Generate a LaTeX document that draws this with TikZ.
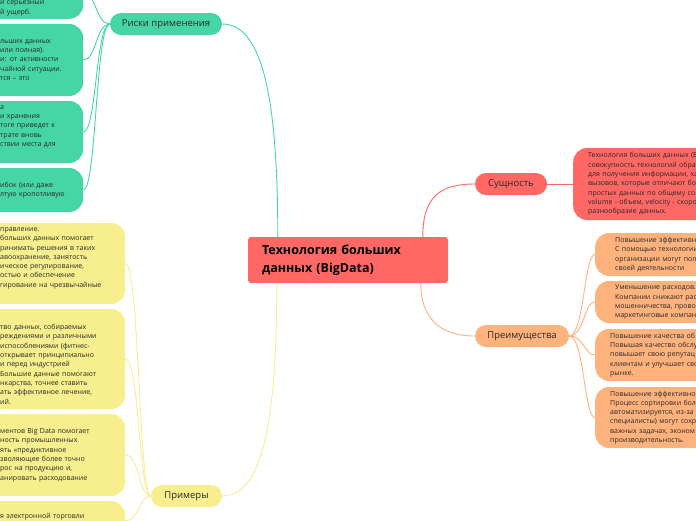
\documentclass[tikz,border=0pt]{standalone}
\usepackage{fontspec}
\setmainfont{Open Sans}

\definecolor{mapteal}{RGB}{70,214,166}
\definecolor{mapyellow}{RGB}{247,239,141}
\definecolor{mapyellowline}{RGB}{246,238,150}
\definecolor{mapred}{RGB}{255,104,100}
\definecolor{maporange}{RGB}{255,178,124}
\definecolor{ink}{RGB}{40,40,40}

\tikzset{
  topic/.style={fill=#1, rounded corners=11pt, minimum height=22pt, inner sep=0pt,
    text=ink, font=\fontsize{9.5}{11}\selectfont},
  note/.style={fill=#1, rounded corners=14pt, align=left, inner ysep=0pt,
    text=ink, font=\fontsize{7}{9.3}\selectfont},
  link/.style={draw=#1, line width=0.9pt},
}

\begin{document}
\begin{tikzpicture}[x=1pt,y=-1pt]
\useasboundingbox (0,0) rectangle (696,520);
\clip (0,0) rectangle (696,520);

% central topic
\node (bigdata) [fill=mapred, rounded corners=3pt, minimum width=200pt, minimum height=46pt,
  text width=172pt, inner xsep=14pt, align=left, text=black,
  font=\bfseries\fontsize{12.5}{17.5}\selectfont] at (348,260) {Технология больших\\данных (BigData)};

% main branches
\node (risks) [topic=mapteal, minimum width=112pt] at (166,24) {Риски применения};
\node (essence) [topic=mapred, minimum width=72pt] at (511,184) {Сущность};
\node (pros) [topic=maporange, minimum width=94pt] at (522,336) {Преимущества};
\node (cases) [topic=mapyellow, minimum width=71pt] at (186.5,496) {Примеры};

% risks (cut at the left edge)
\node (risk1) [note=mapteal, anchor=south west, text width=68pt, inner xsep=15pt, inner ysep=3pt]
  at (-15,19) {\strut\\\strut\\\strut\\и серьезный\\й ущерб.};
\node (risk2) [note=mapteal, anchor=west, text width=68pt, inner xsep=15pt, minimum height=72pt]
  at (-15,60) {\strut\\льших данных\\или полная).\\и: от активности\\чайной ситуации.\\тся – это\\\strut};
\node (risk3) [note=mapteal, anchor=west, text width=68pt, inner xsep=15pt, minimum height=62pt]
  at (-15,132) {а\\и хранения\\тоге приведет к\\трате вновь\\ствии места для\\\strut};
\node (risk4) [note=mapteal, anchor=west, text width=68pt, inner xsep=15pt, minimum height=44pt]
  at (-15,190) {ибок (или даже\\лтую кропотливую};

% examples (cut at the left edge)
\node (ex1) [note=mapyellow, anchor=west, text width=110pt, inner xsep=15pt, minimum height=81pt]
  at (-15,263.5) {правление.\\больших данных помогает\\ринимать решения в таких\\авоохранение, занятость\\ическое регулирование,\\остью и обеспечение\\гирование на чрезвычайные\\\strut};
\node (ex2) [note=mapyellow, anchor=west, text width=110pt, inner xsep=15pt, minimum height=100pt]
  at (-15,359) {\strut\\тво данных, собираемых\\реждениями и различными\\испособлениями (фитнес-\\открывает принципиально\\и перед индустрией\\Большие данные помогают\\нкарства, точнее ставить\\ать эффективное лечение,\\ий.};
\node (ex3) [note=mapyellow, anchor=west, text width=110pt, inner xsep=15pt, minimum height=82pt]
  at (-15,455) {\strut\\ментов Big Data помогает\\ность промышленных\\ять «предиктивное\\зволяющее более точно\\рос на продукцию и,\\анировать расходование\\\strut};
\node (ex4) [note=mapyellow, anchor=north west, text width=110pt, inner xsep=15pt, inner ysep=1pt]
  at (-15,501) {\strut\\я электронной торговли\\\strut\\\strut};

% essence (cut at the right edge)
\node (essbox) [note=mapred, anchor=west, text width=150pt, inner xsep=15pt, minimum height=72pt]
  at (573,184) {Технология больших данных (В\\совокупность технологий обраб\\для получения информации, ха\\вызовов, которые отличают бо\\простых данных по общему со\\volume - объем, velocity - скоро\\разнообразие данных.};

% advantages (cut at the right edge)
\node (adv1) [note=maporange, anchor=west, text width=150pt, inner xsep=20pt, minimum height=43pt]
  at (595,254.5) {Повышение эффективн\\С помощью технологии\\организации могут пол\\своей деятельности};
\node (adv2) [note=maporange, anchor=west, text width=150pt, inner xsep=20pt, minimum height=42pt]
  at (595,302) {Уменьшение расходов.\\Компании снижают рас\\мошенничества, прово\\маркетинговые компан};
\node (adv3) [note=maporange, anchor=west, text width=150pt, inner xsep=15pt, minimum height=52pt]
  at (595,355) {Повышение качества об\\Повышая качество обслу\\повышает свою репутац\\клиентам и улучшает сво\\рынке.};
\node (adv4) [note=maporange, anchor=west, text width=150pt, inner xsep=15pt, minimum height=61pt]
  at (595,417.5) {Повышение эффективно\\Процесс сортировки бол\\автоматизируется, из-за\\специалисты) могут сохр\\важных задачах, эконом\\производительность.};

% links from the centre
\draw[link=mapteal] ([xshift=30pt]bigdata.north west) .. controls +(0,-140) and +(40,0) .. (risks.east);
\draw[link=mapyellowline] ([xshift=29pt]bigdata.south west) .. controls +(0,140) and +(40,0) .. (cases.east);
\draw[link=mapred] ([xshift=175pt]bigdata.north west) .. controls +(0,-40) and +(-35,0) .. (essence.west);
\draw[link=maporange] ([xshift=173pt]bigdata.south west) .. controls +(0,35) and +(-35,0) .. (pros.west);

% links to the notes
\draw[link=mapred] (essence.east) -- (essbox.west);
\foreach \kid in {risk1,risk2,risk3,risk4}
  \draw[link=mapteal] (risks.west) .. controls +(-14,0) and +(13,0) .. (\kid.east);
\foreach \kid in {ex1,ex2,ex3,ex4}
  \draw[link=mapyellowline] (cases.west) .. controls +(-12,0) and +(14,0) .. (\kid.east);
\foreach \kid in {adv1,adv2,adv3,adv4}
  \draw[link=maporange] (pros.east) .. controls +(15,0) and +(-11,0) .. (\kid.west);

\end{tikzpicture}
\end{document}
